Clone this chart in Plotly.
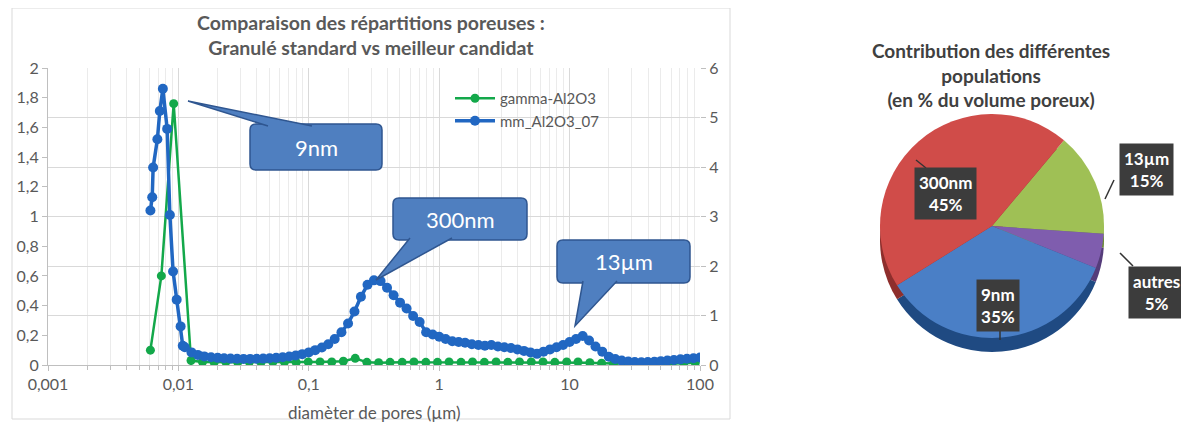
import plotly.graph_objects as go

W, H = 1189, 423
OFF = 8  # page body margin of the browser

# ---------------- data ----------------
gamma_x = [0.0061, 0.0074, 0.0092, 0.0125, 0.0153, 0.0188, 0.0231, 0.0285, 0.035, 0.043,
           0.053, 0.065, 0.080, 0.099, 0.122, 0.150, 0.184, 0.227, 0.279, 0.343,
           0.42, 0.52, 0.64, 0.79, 0.97, 1.19, 1.47, 1.80, 2.22, 2.73,
           3.36, 4.13, 5.08, 6.25, 7.7, 9.5, 11.6, 14.3, 17.6, 21.7,
           26.7, 32.8, 40.4, 49.7, 61, 75, 92]
gamma_y = [0.1, 0.6, 1.76, 0.03, 0.02, 0.018, 0.02, 0.018, 0.02, 0.018,
           0.02, 0.02, 0.018, 0.02, 0.02, 0.02, 0.025, 0.045, 0.018, 0.015,
           0.018, 0.018, 0.02, 0.018, 0.018, 0.02, 0.018, 0.02, 0.018, 0.02,
           0.018, 0.02, 0.02, 0.02, 0.018, 0.02, 0.02, 0.015, 0.012, 0.01,
           0.008, 0.008, 0.01, 0.008, 0.01, 0.012, 0.015]

mm_x = [0.0061, 0.0063, 0.0064, 0.0069, 0.0072, 0.0076, 0.0082, 0.0086, 0.0091, 0.0097,
        0.0104, 0.0108,
        0.0112, 0.0126, 0.0141, 0.0158, 0.0178, 0.0200, 0.0224, 0.0251, 0.0282, 0.0316,
        0.0355, 0.0398, 0.0447, 0.0501, 0.0562, 0.0631, 0.0708, 0.0794, 0.0891, 0.100,
        0.112, 0.126, 0.141, 0.158, 0.178, 0.200, 0.224, 0.251, 0.282, 0.316,
        0.355, 0.398, 0.447, 0.501, 0.562, 0.631, 0.708, 0.794, 0.891, 1.00,
        1.12, 1.26, 1.41, 1.58, 1.78, 2.00, 2.24, 2.51, 2.82, 3.16,
        3.55, 3.98, 4.47, 5.01, 5.62, 6.31, 7.08, 7.94, 8.91, 10.0,
        11.2, 12.6, 14.1, 15.8, 17.8, 20.0, 22.4, 25.1, 28.2, 31.6,
        35.5, 39.8, 44.7, 50.1, 56.2, 63.1, 70.8, 79.4, 89.1, 100]
mm_y = [1.04, 1.13, 1.33, 1.52, 1.71, 1.86, 1.59, 1.01, 0.63, 0.44,
        0.26, 0.13,
        0.12, 0.085, 0.068, 0.058, 0.052, 0.048, 0.045, 0.043, 0.042, 0.041,
        0.041, 0.042, 0.043, 0.045, 0.048, 0.052, 0.057, 0.064, 0.073, 0.085,
        0.10, 0.118, 0.14, 0.175, 0.22, 0.28, 0.36, 0.46, 0.54, 0.57,
        0.565, 0.52, 0.47, 0.42, 0.38, 0.33, 0.29, 0.22, 0.205, 0.19,
        0.175, 0.16, 0.155, 0.15, 0.14, 0.135, 0.13, 0.135, 0.125, 0.12,
        0.115, 0.105, 0.095, 0.085, 0.075, 0.09, 0.105, 0.12, 0.135, 0.155,
        0.175, 0.195, 0.165, 0.125, 0.09, 0.055, 0.04, 0.03, 0.024, 0.02,
        0.018, 0.02, 0.022, 0.026, 0.03, 0.034, 0.038, 0.042, 0.046, 0.05]

x_tickvals = [0.001, 0.01, 0.1, 1, 10, 100]
x_ticktext = ["0,001", "0,01", "0,1", "1", "10", "100"]
y_tickvals = [0, 0.2, 0.4, 0.6, 0.8, 1.0, 1.2, 1.4, 1.6, 1.8, 2.0]
y_ticktext = ["0", "0,2", "0,4", "0,6", "0,8", "1", "1,2", "1,4", "1,6", "1,8", "2"]
y2_tickvals = [0, 1, 2, 3, 4, 5, 6]

callout_texts = ["9nm", "300nm", "13µm"]

pie_labels = ["13µm", "autres", "9nm", "300nm"]
pie_values = [15, 5, 35, 45]
pie_colors = ["#9FC055", "#7F5DAE", "#4A7FC6", "#D04C49"]
pie_side_colors = ["#6B8A35", "#553C7A", "#1F4A82", "#8E2E2C"]

# ---------------- helpers (layout positions in screen pixels) ----------------
FW, FH = W - OFF, H - OFF


def px(x):
    return (x - OFF) / FW


def py(y):
    return 1 - (y - OFF) / FH


FONT = "Lato, 'Open Sans', sans-serif"
GRAY = "#595959"

fig = go.Figure()

fig.add_trace(go.Scatter(
    x=gamma_x, y=gamma_y, name="gamma-Al2O3", mode="lines+markers",
    line=dict(color="#13A84A", width=2.5), marker=dict(color="#13A84A", size=9),
    xaxis="x", yaxis="y"))
fig.add_trace(go.Scatter(
    x=mm_x, y=mm_y, name="mm_Al2O3_07", mode="lines+markers",
    line=dict(color="#2167C2", width=3.5), marker=dict(color="#2167C2", size=10),
    xaxis="x", yaxis="y"))
# invisible trace so the secondary axis is drawn
fig.add_trace(go.Scatter(
    x=[1], y=[0], mode="markers", marker=dict(opacity=0), showlegend=False,
    hoverinfo="skip", xaxis="x", yaxis="y2"))

# pie side (3D thickness) then the top surface
PIE_X = [px(880), px(1104)]
fig.add_trace(go.Pie(
    labels=pie_labels, values=pie_values, sort=False, direction="clockwise",
    rotation=40, marker=dict(colors=pie_side_colors, line=dict(width=0)),
    textinfo="none", showlegend=False, hoverinfo="skip",
    domain=dict(x=PIE_X, y=[py(352), py(128)])))
fig.add_trace(go.Pie(
    labels=pie_labels, values=pie_values, sort=False, direction="clockwise",
    rotation=40, marker=dict(colors=pie_colors, line=dict(width=0)),
    textinfo="none", showlegend=False,
    domain=dict(x=PIE_X, y=[py(338), py(114)])))

minor_vals = [m * 10 ** e for e in range(-3, 2) for m in range(2, 10)]

fig.update_layout(
    width=FW, height=FH,
    margin=dict(l=0, r=0, t=0, b=0),
    paper_bgcolor="white", plot_bgcolor="white",
    font=dict(family=FONT, color=GRAY, size=15),
    xaxis=dict(
        type="log", domain=[px(48), px(700)], range=[-3, 2],
        tickmode="array", tickvals=x_tickvals, ticktext=x_ticktext,
        showgrid=True, gridcolor="#D9D9D9", gridwidth=1,
        minor=dict(tickmode="array", tickvals=minor_vals, showgrid=True,
                   gridcolor="#EBEBEB", ticks="outside", ticklen=4, tickcolor="#BFBFBF"),
        showline=True, linecolor="#BFBFBF", ticks="outside", ticklen=5, tickcolor="#BFBFBF",
        tickfont=dict(size=16, color=GRAY), zeroline=False, automargin=False,
        anchor="y"),
    yaxis=dict(
        domain=[py(365), py(68)], range=[0, 2],
        tickmode="array", tickvals=y_tickvals, ticktext=y_ticktext,
        showgrid=False, showline=True, linecolor="#BFBFBF",
        ticks="outside", ticklen=5, tickcolor="#BFBFBF",
        tickfont=dict(size=16, color=GRAY), zeroline=False, automargin=False,
        anchor="x"),
    yaxis2=dict(
        overlaying="y", side="right", range=[0, 6],
        tickmode="array", tickvals=y2_tickvals,
        showgrid=True, gridcolor="#D9D9D9", showline=False,
        ticks="outside", ticklen=5, tickcolor="#BFBFBF",
        tickfont=dict(size=16, color=GRAY), zeroline=False, automargin=False,
        anchor="x"),
    legend=dict(x=px(450), y=py(82), xanchor="left", yanchor="top",
                bgcolor="rgba(0,0,0,0)", font=dict(size=15, color=GRAY),
                itemwidth=40, tracegroupgap=2),
    showlegend=True,
)

shapes = []
annotations = []

# frame around the left chart
shapes.append(dict(type="rect", xref="paper", yref="paper",
                   x0=px(12), x1=px(730), y0=py(419), y1=py(8),
                   line=dict(color="#D9D9D9", width=1), fillcolor="rgba(0,0,0,0)",
                   layer="below"))

# titles
annotations.append(dict(
    text="<b>Comparaison des répartitions poreuses :</b><br><b>Granulé standard vs meilleur candidat</b>",
    x=px(371), y=py(35), xref="paper", yref="paper", xanchor="center", yanchor="middle",
    showarrow=False, font=dict(size=19.5, color=GRAY, family=FONT), align="center"))
annotations.append(dict(
    text="<b>Contribution des différentes</b><br><b>populations</b><br><b>(en % du volume poreux)</b>",
    x=px(991), y=py(75), xref="paper", yref="paper", xanchor="center", yanchor="middle",
    showarrow=False, font=dict(size=19, color="#404040", family=FONT), align="center"))
annotations.append(dict(
    text="diamèter de pores (µm)", x=px(374), y=py(412), xref="paper", yref="paper",
    xanchor="center", yanchor="middle", showarrow=False,
    font=dict(size=17, color=GRAY, family=FONT)))

# callouts: box (x0, y0, x1, y1), wedge base (xa, xb), tip (tx, ty)
callouts = [
    ((250, 124, 382, 170), (268, 312), (188, 101)),
    ((393, 198, 527, 240), (410, 452), (376, 280)),
    ((557, 240, 690, 283), (583, 617), (575, 326)),
]
FILL = "#4F7FC0"
EDGE = "#2F5690"


def rounded_rect_path(x0, y0, x1, y1, r):
    X0, X1 = px(x0), px(x1)
    Y0, Y1 = py(y0), py(y1)
    rx, ry = r / FW, r / FH
    return (f"M {X0+rx},{Y0} L {X1-rx},{Y0} Q {X1},{Y0} {X1},{Y0-ry} "
            f"L {X1},{Y1+ry} Q {X1},{Y1} {X1-rx},{Y1} L {X0+rx},{Y1} "
            f"Q {X0},{Y1} {X0},{Y1+ry} L {X0},{Y0-ry} Q {X0},{Y0} {X0+rx},{Y0} Z")


for (box, base, tip), txt in zip(callouts, callout_texts):
    x0, y0, x1, y1 = box
    shapes.append(dict(type="path", xref="paper", yref="paper",
                       path=rounded_rect_path(x0, y0, x1, y1, 6),
                       fillcolor=FILL, line=dict(color=EDGE, width=1.5), layer="above"))
    by = y0 + 2 if tip[1] < y0 else y1 - 2
    shapes.append(dict(type="path", xref="paper", yref="paper",
                       path=f"M {px(base[0])},{py(by)} L {px(tip[0])},{py(tip[1])} L {px(base[1])},{py(by)}",
                       fillcolor=FILL, line=dict(color=EDGE, width=1.5), layer="above"))
    annotations.append(dict(text=txt, x=px((x0 + x1) / 2), y=py((y0 + y1) / 2),
                            xref="paper", yref="paper", showarrow=False,
                            xanchor="center", yanchor="middle",
                            font=dict(size=22, color="white", family=FONT)))

# pie labels: center, leader line (from, to)
pie_label_pos = {
    "300nm": ((945, 193), (916, 160), (926, 168)),
    "13µm": ((1146, 169), (1114, 180), (1105, 199)),
    "autres": ((1156, 292), (1133, 266), (1120, 253)),
    "9nm": ((998, 305), (1000, 330), (1000, 340)),
}
for lab, val in zip(pie_labels, pie_values):
    (cx, cy), (l0x, l0y), (l1x, l1y) = pie_label_pos[lab]
    shapes.append(dict(type="line", xref="paper", yref="paper",
                       x0=px(l0x), y0=py(l0y), x1=px(l1x), y1=py(l1y),
                       line=dict(color="#333333", width=1.5), layer="above"))
    annotations.append(dict(text=f"<b>{lab}</b><br><b>{val}%</b>",
                            x=px(cx), y=py(cy), xref="paper", yref="paper",
                            xanchor="center", yanchor="middle",
                            showarrow=False, bgcolor="#3C3C3C", borderpad=4,
                            font=dict(size=17, color="white", family=FONT),
                            align="center"))

fig.update_layout(shapes=shapes, annotations=annotations)

fig.write_html("out.html")
